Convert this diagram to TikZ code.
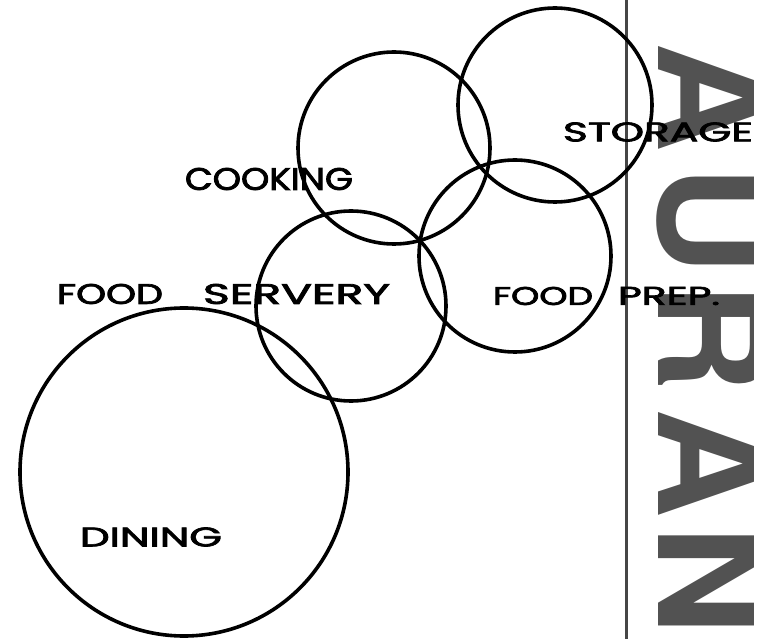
\documentclass[tikz,border=0pt]{standalone}
\usepackage{fontspec}
\usepackage{graphicx}
\newfontfamily\lettresmain{Poppins}[FakeBold=2.5]
\newfontfamily\lettresenseigne{TeX Gyre Heros}
\definecolor{enseignegris}{RGB}{82,82,82}
\definecolor{traitgris}{RGB}{70,70,70}
\newcommand{\lettrage}[3]{\resizebox{#1pt}{#2pt}{\lettresmain #3}}
\tikzset{
  bulle/.style={circle, draw=black, line width=3.6pt, minimum size=#1, inner sep=0pt},
  etiquette/.style={inner sep=0pt, text=black},
  enseigne/.style={inner sep=0pt, rotate=-90, text=enseignegris,
    font=\lettresenseigne\bfseries\fontsize{152}{152}\selectfont}
}

\begin{document}
\begin{tikzpicture}[x=1pt, y=-1pt]
  \useasboundingbox (0,0) rectangle (772,639);
  % lettres de l'enseigne, coupees a droite
  \begin{scope}
    \clip (0,0) rectangle (753,639);
    \foreach \lettre/\yc [count=\i] in {A/97, U/220, R/337, A/463, N/580}
      \node[enseigne, anchor=base] (lettre\i) at (658,\yc) {\lettre};
  \end{scope}
  \draw[traitgris, line width=3pt] (626,0) -- (626,639);

  % bulles
  \node[bulle=328pt] (dining)  at (184,472) {};
  \node[bulle=190pt] (servery) at (351,306) {};
  \node[bulle=192pt] (cooking) at (394,148) {};
  \node[bulle=194pt] (storage) at (555,105) {};
  \node[bulle=192pt] (prep)    at (515,256) {};

  % etiquettes
  \node[etiquette] (l-cooking) at (269,179) {\lettrage{168}{22}{COOKING}};
  \node[etiquette] (l-servery) at (223.5,294)
    {\lettrage{106}{20}{FOOD}\hspace{40pt}\lettrage{187}{20}{SERVERY}};
  \node[etiquette] (l-storage) at (658,132) {\lettrage{190}{19}{STORAGE}};
  \node[etiquette] (l-prep) at (606.5,296)
    {\lettrage{100}{18}{FOOD}\hspace{25pt}\lettrage{102}{18}{PREP.}};
  \node[etiquette] (l-dining) at (151,537) {\lettrage{142}{19}{DINING}};
\end{tikzpicture}
\end{document}
